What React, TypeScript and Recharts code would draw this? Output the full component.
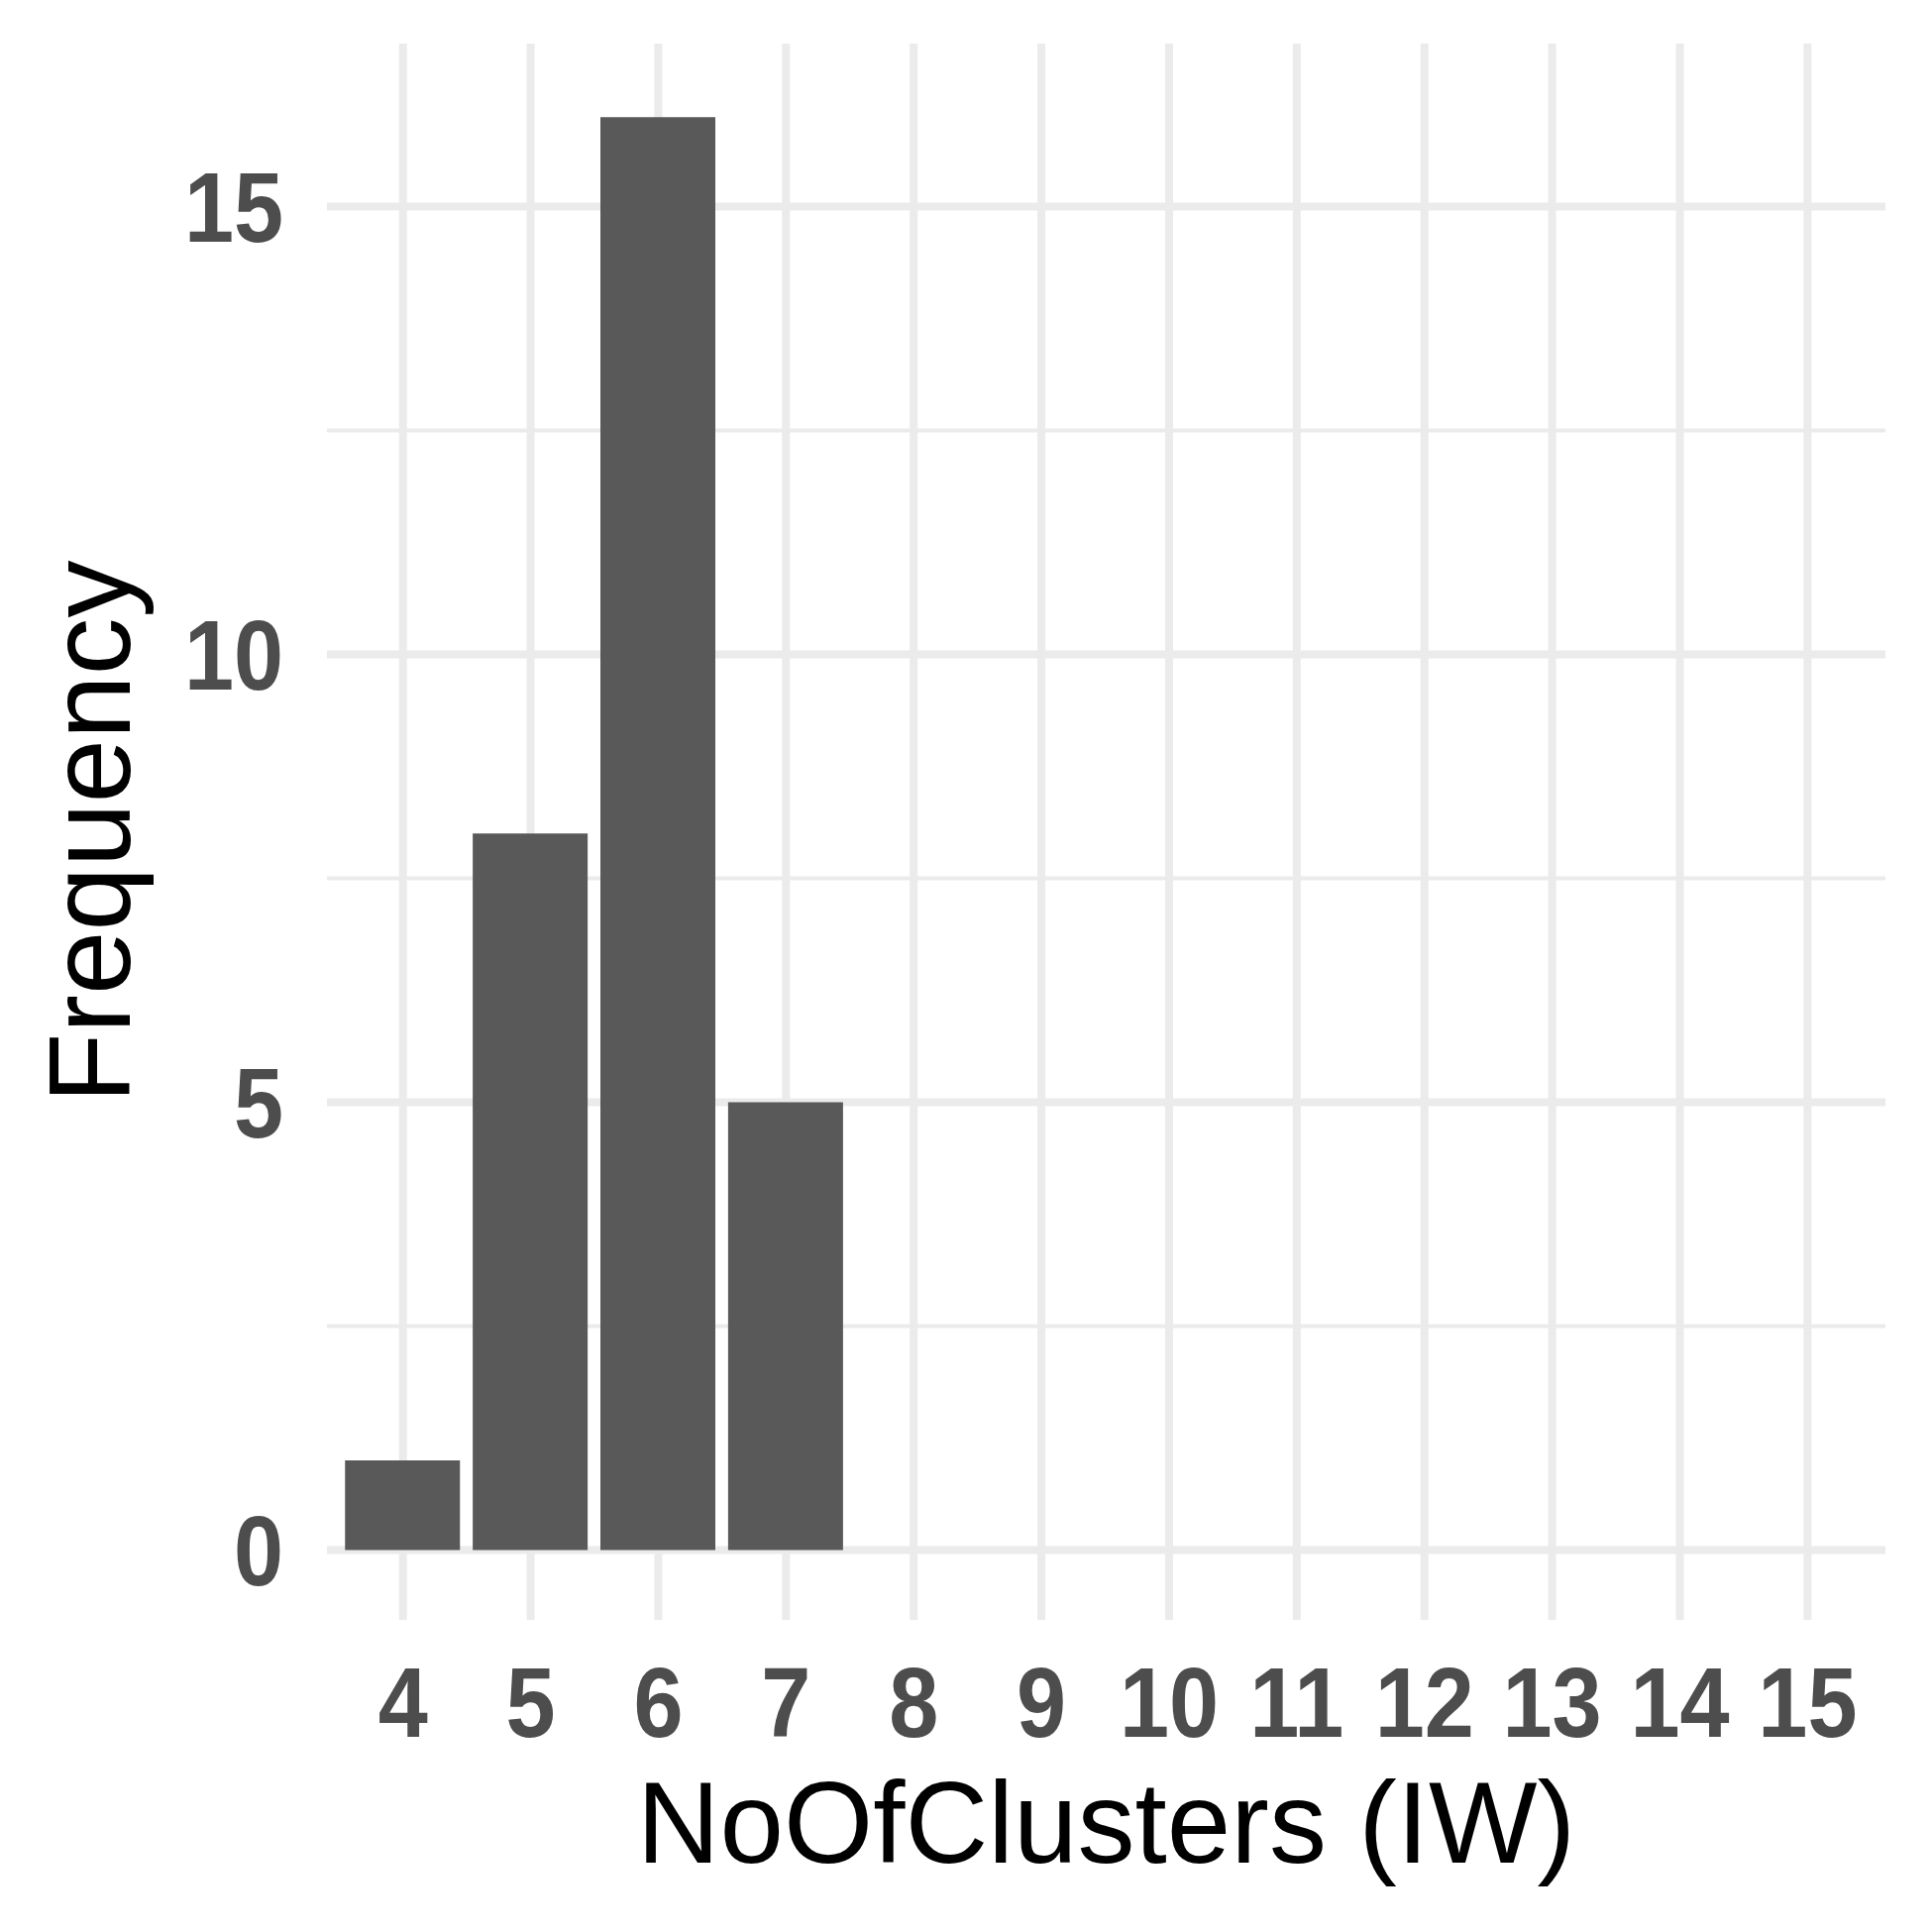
import React from 'react'
import { BarChart, Bar, XAxis, YAxis, CartesianGrid, Label } from 'recharts'

const clusters = [4, 5, 6, 7]
const frequency = [1, 8, 16, 5]
const xTicks = [4, 5, 6, 7, 8, 9, 10, 11, 12, 13, 14, 15]
const yTicks = [0, 5, 10, 15]
const yMinorTicks = [2.5, 7.5, 12.5]

const data = clusters.map((c, i) => ({ clusters: c, frequency: frequency[i] }))

const FONT = '"Liberation Sans", Arial, Helvetica, sans-serif'
const GRID = '#EBEBEB'

const XTick = (props: any) => {
  const { x, y, payload } = props
  return (
    <text
      transform={`translate(${x},${y + 47}) scale(0.9,1)`}
      textAnchor="middle"
      dy="0.71em"
      fontFamily={FONT}
      fontWeight="bold"
      fontSize={100}
      fill="#4D4D4D"
    >
      {payload.value}
    </text>
  )
}

const YTick = (props: any) => {
  const { x, y, payload } = props
  return (
    <text
      transform={`translate(${x - 44},${y}) scale(0.9,1)`}
      textAnchor="end"
      dy="0.355em"
      fontFamily={FONT}
      fontWeight="bold"
      fontSize={100}
      fill="#4D4D4D"
    >
      {payload.value}
    </text>
  )
}

const XTitle = (props: any) => {
  const vb = props.viewBox
  return (
    <text x={vb.x + vb.width / 2} y={vb.y + 245} textAnchor="middle" fontFamily={FONT} fontSize={116} fill="#000">
      NoOfClusters (IW)
    </text>
  )
}

const YTitle = (props: any) => {
  const vb = props.viewBox
  const cx = vb.x + 131
  const cy = vb.y + vb.height / 2
  return (
    <text transform={`translate(${cx},${cy}) rotate(-90)`} textAnchor="middle" fontFamily={FONT} fontSize={116} fill="#000">
      Frequency
    </text>
  )
}

export default function App() {
  return (
    <div style={{ position: 'absolute', left: 0, top: 0, width: 1950, height: 1950, background: '#fff' }}>
      <BarChart width={1950} height={1950} data={data} margin={{ top: 44, right: 47, bottom: 0, left: 0 }}>
        <CartesianGrid stroke={GRID} strokeWidth={4} vertical={false} horizontalValues={yMinorTicks} />
        <CartesianGrid stroke={GRID} strokeWidth={8} horizontalValues={yTicks} verticalValues={xTicks} />
        <XAxis
          type="number"
          dataKey="clusters"
          domain={[3.405, 15.61]}
          ticks={xTicks}
          interval={0}
          allowDataOverflow
          axisLine={false}
          tickLine={false}
          tickSize={0}
          tickMargin={0}
          height={315}
          tick={<XTick />}
        >
          <Label content={<XTitle />} />
        </XAxis>
        <YAxis
          type="number"
          domain={[-0.78, 16.82]}
          ticks={yTicks}
          interval={0}
          allowDataOverflow
          axisLine={false}
          tickLine={false}
          tickSize={0}
          tickMargin={0}
          width={330}
          tick={<YTick />}
        >
          <Label content={<YTitle />} />
        </YAxis>
        <Bar dataKey="frequency" fill="#595959" barSize={116} isAnimationActive={false} />
      </BarChart>
    </div>
  )
}
